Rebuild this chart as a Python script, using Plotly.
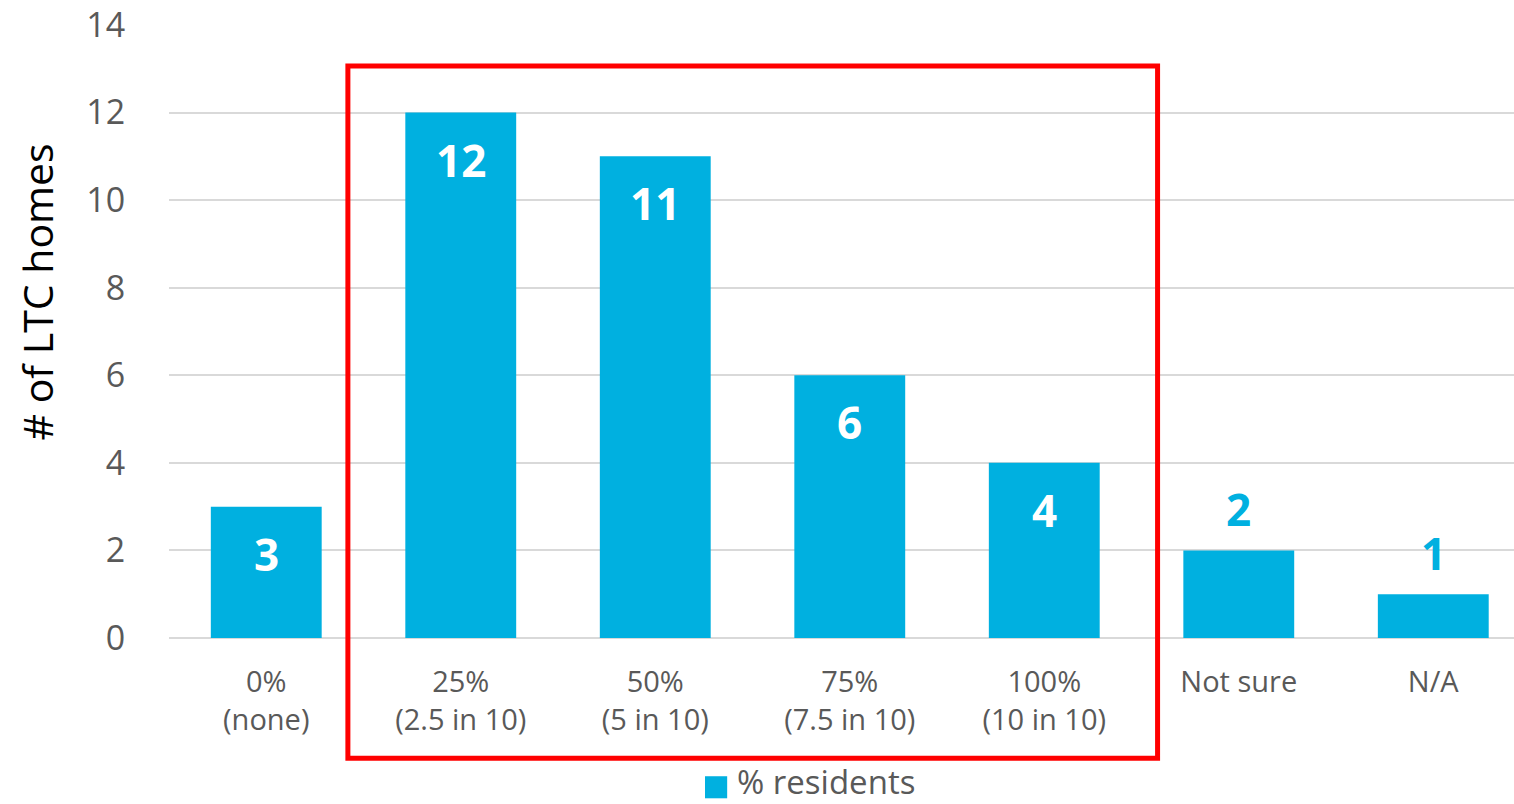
import plotly.graph_objects as go

categories = ["0%<br>(none)", "25%<br>(2.5 in 10)", "50%<br>(5 in 10)", "75%<br>(7.5 in 10)",
              "100%<br>(10 in 10)", "Not sure", "N/A"]
values = [3, 12, 11, 6, 4, 2, 1]
series_name = "% residents"
y_ticks = [0, 2, 4, 6, 8, 10, 12, 14]
y_title = "# of LTC homes"

BAR = "#00B0E0"
GRAY = "#595959"
FONT = "Open Sans"

fig = go.Figure()
fig.add_trace(go.Bar(x=list(range(len(categories))), y=values, name=series_name,
                     marker=dict(color=BAR, line=dict(width=0)), width=0.57, showlegend=False))

# value labels: inside (white) for tall bars, above (blue) for short ones
for i, v in enumerate(values):
    inside = v >= 3
    fig.add_annotation(x=i, y=v, xref="x", yref="y", text=f"<b>{v}</b>", showarrow=False,
                       yanchor="middle", yshift=-47 if inside else 41,
                       font=dict(family=FONT, size=44, color="white" if inside else BAR))

# highlight box
fig.add_shape(type="rect", xref="paper", yref="paper", x0=0.133, x1=0.735, y0=-0.196, y1=0.933,
              line=dict(color="#FF0000", width=5), fillcolor="rgba(0,0,0,0)", layer="above")

# legend (drawn manually for a large swatch)
fig.add_shape(type="rect", xref="paper", yref="paper", x0=0.3985, x1=0.415, y0=-0.2615, y1=-0.2255,
              line=dict(width=0), fillcolor=BAR)
fig.add_annotation(xref="paper", yref="paper", x=0.421, y=-0.2335, xanchor="left", yanchor="middle",
                   text=series_name, showarrow=False, font=dict(family=FONT, size=33, color=GRAY))

# y-axis title
fig.add_annotation(xref="paper", yref="paper", x=-0.098, y=0.564, xanchor="center", yanchor="middle",
                   text=y_title, textangle=-90, showarrow=False,
                   font=dict(family=FONT, size=41, color="black"))

fig.update_layout(
    width=1514, height=804,
    margin=dict(l=169, r=0, t=25, b=166),
    paper_bgcolor="white", plot_bgcolor="white",
    font=dict(family=FONT, color=GRAY),
    showlegend=False,
    xaxis=dict(range=[-0.5, 6.415], tickvals=list(range(len(categories))), ticktext=categories,
               tickfont=dict(size=29, color=GRAY), showgrid=False, zeroline=False,
               showline=False, ticks="outside", ticklen=18, tickcolor="rgba(0,0,0,0)"),
    yaxis=dict(range=[0, 14], tickvals=y_ticks, tickfont=dict(size=34, color=GRAY),
               showgrid=True, gridcolor="#D9D9D9", gridwidth=2, zeroline=True,
               zerolinecolor="#D9D9D9", zerolinewidth=2, showline=False,
               ticks="outside", ticklen=36, tickcolor="rgba(0,0,0,0)"),
)

fig.write_html("out.html")
